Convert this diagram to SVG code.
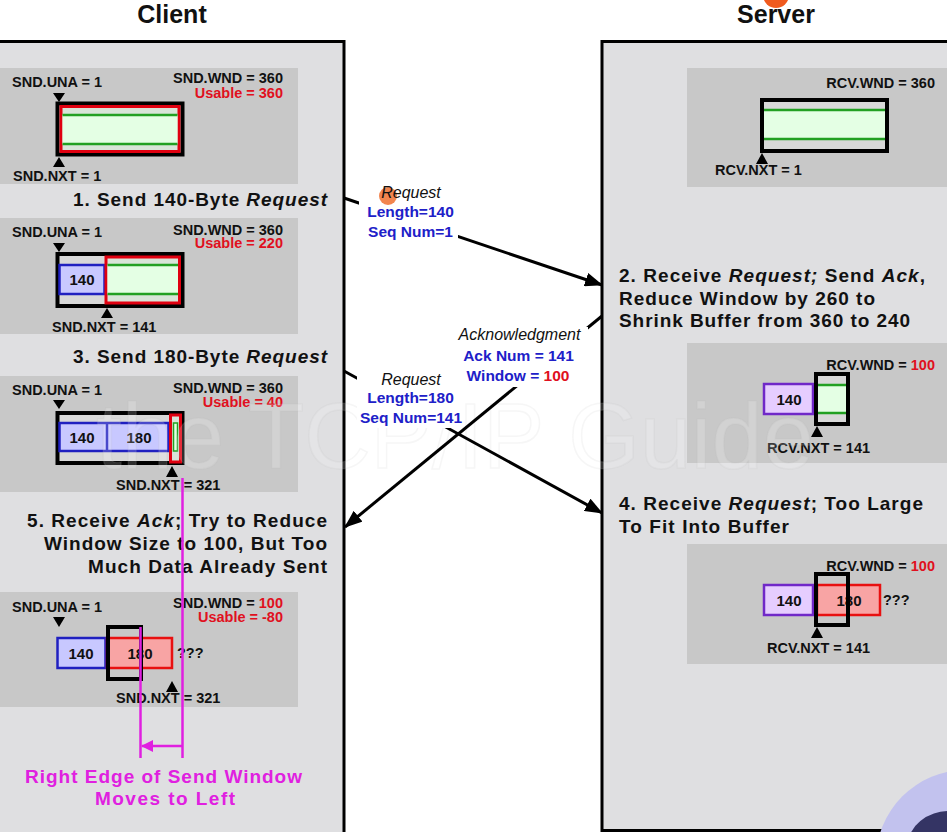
<svg xmlns="http://www.w3.org/2000/svg" width="947" height="832" viewBox="0 0 947 832">
  <style>
    text { font-family: "Liberation Sans", Arial, sans-serif; font-weight: bold; fill: #111; }
    .title { font-size: 25px; text-anchor: middle; }
    .step { font-size: 19px; }
    .lbl { font-size: 14.5px; }
    .red { fill: #e01020; }
    .blue { fill: #2020c8; }
    .mag { fill: #e020e0; font-size: 19px; text-anchor: middle; }
    .it { font-style: italic; }
    .msg { font-size: 15.5px; text-anchor: middle; }
    .msgit { font-size: 16px; font-style: italic; font-weight: normal; text-anchor: middle; }
    .panel { fill: #dfdfe1; stroke: #000; stroke-width: 3; }
    .zone { fill: #c8c8c8; }
    .buf { fill: #d8d8d8; stroke: #000; stroke-width: 4; }
    .win { fill: none; stroke: #000; stroke-width: 4; }
    .free { fill: #e4ffe4; }
    .gline { stroke: #22a022; stroke-width: 2.5; }
    .usable { fill: #d8e4d8; stroke: #e00010; stroke-width: 3; }
    .sent { fill: #c8c8ff; stroke: #2020c0; stroke-width: 2.5; }
    .rcvd { fill: #e6cdff; stroke: #7028c8; stroke-width: 2.5; }
    .over { fill: #f8a4a4; stroke: #e81010; stroke-width: 2.5; }
    .ptr { fill: #000; }
    .seg { font-size: 15px; text-anchor: middle; }
    .flow { stroke: #000; stroke-width: 3; fill: none; marker-end: url(#head); }
    .edge { stroke: #e020e0; stroke-width: 2.5; fill: none; }
  </style>
  <defs>
    <marker id="head" markerUnits="userSpaceOnUse" markerWidth="18" markerHeight="14" refX="17" refY="7" orient="auto">
      <path d="M0,0 L18,7 L0,14 z" fill="#000"/>
    </marker>
    <marker id="maghead" markerUnits="userSpaceOnUse" markerWidth="12" markerHeight="12" refX="11" refY="6" orient="auto">
      <path d="M0,0 L12,6 L0,12 z" fill="#e020e0"/>
    </marker>
  </defs>

  <rect width="947" height="832" fill="#fff"/>

  <!-- Client side -->
  <g id="client">
    <text class="title" x="172" y="23">Client</text>
    <rect class="panel" x="-10" y="41.5" width="354" height="800"/>

    <g id="client-state-1">
      <rect class="zone" x="0" y="68" width="298" height="116"/>
      <text class="lbl" x="12" y="87">SND.UNA = 1</text>
      <text class="lbl" x="283" y="83" text-anchor="end">SND.WND = 360</text>
      <text class="lbl red" x="283" y="98" text-anchor="end">Usable = 360</text>
      <rect class="buf" x="57.5" y="103.5" width="125" height="51"/>
      <rect class="usable" x="61" y="106.5" width="118" height="45"/>
      <rect class="free" x="62.5" y="115" width="115" height="29"/>
      <line class="gline" x1="62.5" y1="115" x2="177.5" y2="115"/>
      <line class="gline" x1="62.5" y1="144" x2="177.5" y2="144"/>
      <polygon class="ptr" points="53,93 65,93 59,102"/>
      <polygon class="ptr" points="53,167 65,167 59,157"/>
      <text class="lbl" x="13" y="181">SND.NXT = 1</text>
    </g>

    <text class="step" x="73" y="206" textLength="254">1. Send 140-Byte <tspan class="it">Request</tspan></text>

    <g id="client-state-2">
      <rect class="zone" x="0" y="218" width="298" height="116"/>
      <text class="lbl" x="12" y="237">SND.UNA = 1</text>
      <text class="lbl" x="283" y="235" text-anchor="end">SND.WND = 360</text>
      <text class="lbl red" x="283" y="248" text-anchor="end">Usable = 220</text>
      <rect class="buf" x="57.5" y="254" width="125" height="52"/>
      <rect class="sent" x="59.5" y="265" width="45" height="29"/>
      <text class="seg" x="82" y="285">140</text>
      <rect class="usable" x="106" y="257" width="73.5" height="46"/>
      <rect class="free" x="107.5" y="265" width="70.5" height="29"/>
      <line class="gline" x1="107.5" y1="265" x2="178" y2="265"/>
      <line class="gline" x1="107.5" y1="294" x2="178" y2="294"/>
      <polygon class="ptr" points="53,243 65,243 59,252"/>
      <polygon class="ptr" points="101,318 113,318 107,308"/>
      <text class="lbl" x="52" y="332">SND.NXT = 141</text>
    </g>

    <text class="step" x="73" y="363" textLength="254">3. Send 180-Byte <tspan class="it">Request</tspan></text>

    <g id="client-state-3">
      <rect class="zone" x="0" y="376" width="298" height="116"/>
      <text class="lbl" x="12" y="395">SND.UNA = 1</text>
      <text class="lbl" x="283" y="393" text-anchor="end">SND.WND = 360</text>
      <text class="lbl red" x="283" y="407" text-anchor="end">Usable = 40</text>
      <rect class="buf" x="57.5" y="413" width="125" height="50"/>
      <rect class="sent" x="59.5" y="423" width="109" height="28"/>
      <line x1="107" y1="423" x2="107" y2="451" stroke="#2020c0" stroke-width="2.5"/>
      <text class="seg" x="82" y="443">140</text>
      <text class="seg" x="139" y="443">180</text>
      <rect class="usable" x="170.5" y="415" width="10" height="47"/>
      <rect x="173.5" y="423" width="4" height="28" fill="#e4ffe4" stroke="#22a022" stroke-width="1.5"/>
      <polygon class="ptr" points="53,400 65,400 59,409"/>
      <polygon class="ptr" points="166,477 178,477 172,466"/>
      <text class="lbl" x="116" y="490">SND.NXT = 321</text>
    </g>

    <text class="step" x="27" y="527" textLength="300">5. Receive <tspan class="it">Ack</tspan>; Try to Reduce</text>
    <text class="step" x="44" y="550" textLength="283">Window Size to 100, But Too</text>
    <text class="step" x="88" y="573" textLength="239">Much Data Already Sent</text>

    <g id="client-state-4">
      <rect class="zone" x="0" y="592" width="298" height="115"/>
      <text class="lbl" x="12" y="612">SND.UNA = 1</text>
      <text class="lbl" x="283" y="608" text-anchor="end">SND.WND = <tspan class="red">100</tspan></text>
      <text class="lbl red" x="283" y="622" text-anchor="end">Usable = -80</text>
      <rect class="sent" x="57.5" y="638" width="48" height="30"/>
      <text class="seg" x="81" y="659">140</text>
      <rect class="over" x="107" y="638" width="65" height="30"/>
      <text class="seg" x="140" y="659">180</text>
      <rect class="win" x="108" y="627" width="33" height="52"/>
      <text class="lbl" x="177" y="658" font-size="15">???</text>
      <polygon class="ptr" points="53,617 65,617 59,627"/>
      <polygon class="ptr" points="166,692 178,692 172,681"/>
      <text class="lbl" x="116" y="703">SND.NXT = 321</text>
    </g>

    <g id="window-edge">
      <line class="edge" x1="182.5" y1="478" x2="182.5" y2="758"/>
      <line class="edge" x1="140.5" y1="627" x2="140.5" y2="758"/>
      <line class="edge" x1="182" y1="746" x2="142" y2="746" marker-end="url(#maghead)"/>
      <text class="mag" x="163.5" y="783" textLength="277">Right Edge of Send Window</text>
      <text class="mag" x="165" y="805" textLength="140">Moves to Left</text>
    </g>
  </g>

  <!-- Server side -->
  <g id="server">
    <text class="title" x="776" y="23" font-size="26">Server</text>
    <rect class="panel" x="602" y="41.5" width="360" height="789"/>

    <g id="server-state-1">
      <rect class="zone" x="687" y="68" width="262" height="119"/>
      <text class="lbl" x="935" y="88" text-anchor="end">RCV.WND = 360</text>
      <rect class="buf" x="762" y="100" width="125" height="51"/>
      <rect class="free" x="764" y="110" width="121" height="29"/>
      <line class="gline" x1="764" y1="110" x2="885" y2="110"/>
      <line class="gline" x1="764" y1="139" x2="885" y2="139"/>
      <polygon class="ptr" points="756,164 768,164 762,153"/>
      <text class="lbl" x="715" y="175">RCV.NXT = 1</text>
    </g>

    <text class="step" x="619" y="282" textLength="306">2. Receive <tspan class="it">Request;</tspan> Send <tspan class="it">Ack</tspan>,</text>
    <text class="step" x="619" y="305" textLength="256">Reduce Window by 260 to</text>
    <text class="step" x="619" y="327" textLength="291">Shrink Buffer from 360 to 240</text>

    <g id="server-state-2">
      <rect class="zone" x="687" y="343" width="262" height="120"/>
      <text class="lbl" x="935" y="370" text-anchor="end">RCV.WND = <tspan class="red">100</tspan></text>
      <rect class="rcvd" x="764" y="384" width="49" height="30"/>
      <text class="seg" x="789" y="405">140</text>
      <rect class="buf" x="816" y="374" width="32" height="50"/>
      <rect class="free" x="818" y="385" width="28" height="28"/>
      <line class="gline" x1="818" y1="385" x2="846" y2="385"/>
      <line class="gline" x1="818" y1="413" x2="846" y2="413"/>
      <polygon class="ptr" points="811,437 823,437 817,426"/>
      <text class="lbl" x="767" y="453">RCV.NXT = 141</text>
    </g>

    <text class="step" x="619" y="510" textLength="304">4. Receive <tspan class="it">Request</tspan>; Too Large</text>
    <text class="step" x="619" y="533" textLength="170">To Fit Into Buffer</text>

    <g id="server-state-3">
      <rect class="zone" x="687" y="544" width="262" height="120"/>
      <text class="lbl" x="935" y="571" text-anchor="end">RCV.WND = <tspan class="red">100</tspan></text>
      <rect class="rcvd" x="764" y="585" width="49" height="30"/>
      <text class="seg" x="789" y="606">140</text>
      <rect class="over" x="817" y="585" width="63" height="30"/>
      <text class="seg" x="849" y="606">180</text>
      <rect class="win" x="816" y="574" width="32" height="51"/>
      <text class="lbl" x="883" y="605" font-size="15">???</text>
      <polygon class="ptr" points="811,638 823,638 817,627"/>
      <text class="lbl" x="767" y="653">RCV.NXT = 141</text>
    </g>
  </g>

  <!-- Watermark -->
  <text x="455" y="468" font-size="92" text-anchor="middle" style="fill:#ffffff;fill-opacity:0.18;stroke:#b8b8b8;stroke-opacity:0.12;stroke-width:1.5;font-weight:normal">the TCP/IP Guide</text>

  <!-- Segments exchanged -->
  <g id="connectors">
    <line class="flow" x1="344" y1="198" x2="602" y2="285"/>
    <line class="flow" x1="602" y1="316" x2="345" y2="527"/>
    <line class="flow" x1="344" y1="371" x2="602" y2="513"/>
  </g>

  <g id="label-request-1">
    <rect x="359" y="183" width="99" height="60" fill="#fff"/>
    <circle cx="388" cy="196" r="9" fill="#f07030" fill-opacity="0.85"/>
    <text class="msgit" x="411" y="198">Request</text>
    <text class="msg blue" x="410.5" y="217">Length=140</text>
    <text class="msg blue" x="410.5" y="237">Seq Num=1</text>
  </g>

  <g id="label-ack">
    <rect x="448" y="327" width="140" height="60" fill="#fff"/>
    <text class="msgit" x="519.5" y="340">Acknowledgment</text>
    <text class="msg blue" x="518.5" y="361">Ack Num = 141</text>
    <text class="msg blue" x="518" y="381">Window = <tspan class="red">100</tspan></text>
  </g>

  <g id="label-request-2">
    <rect x="357" y="372" width="106" height="56" fill="#fff"/>
    <text class="msgit" x="411" y="385">Request</text>
    <text class="msg blue" x="410.5" y="403">Length=180</text>
    <text class="msg blue" x="411" y="423">Seq Num=141</text>
  </g>

  <!-- Overlay marks -->
  <circle cx="776" cy="-5" r="13" fill="#f05a1e"/>
  <g id="corner-badge">
    <circle cx="966" cy="860" r="90" fill="#c2c2ee"/>
    <ellipse cx="950" cy="845" rx="42" ry="34" fill="#343464"/>
  </g>
</svg>
